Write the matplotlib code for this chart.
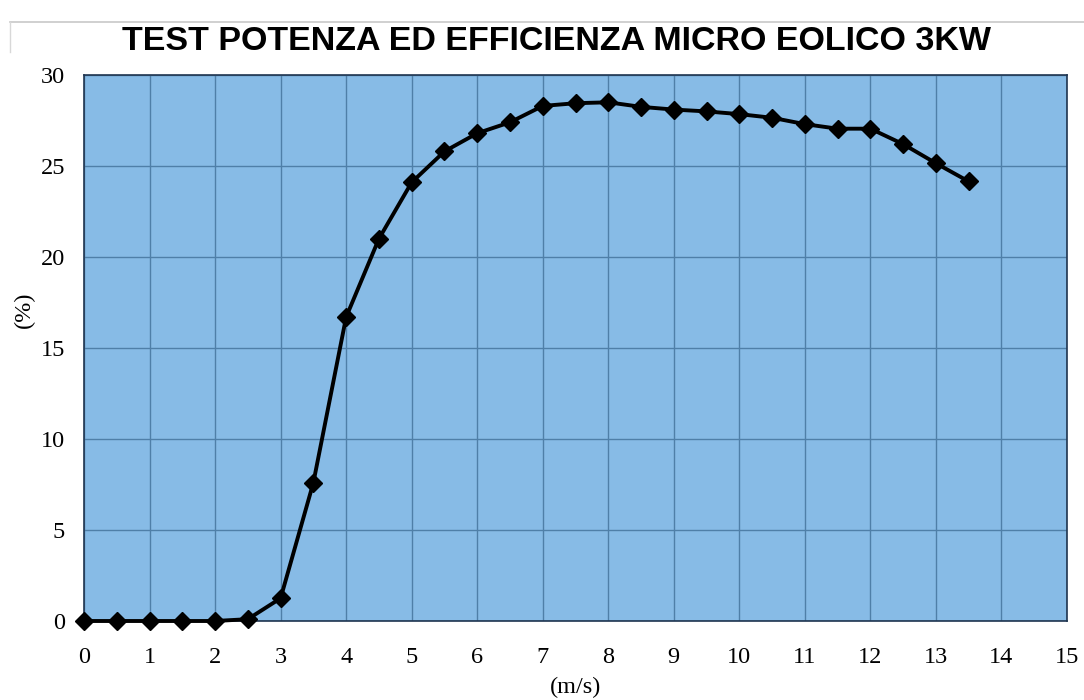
import matplotlib
matplotlib.use("Agg")
import matplotlib.pyplot as plt

# wind speed (m/s) and efficiency (%)
speed = [0, 0.5, 1, 1.5, 2, 2.5, 3, 3.5, 4, 4.5, 5, 5.5, 6, 6.5, 7,
         7.5, 8, 8.5, 9, 9.5, 10, 10.5, 11, 11.5, 12, 12.5, 13, 13.5]
efficiency = [0, 0, 0, 0, 0, 0.1, 1.25, 7.6, 16.7, 21.0, 24.1, 25.8, 26.8,
              27.4, 28.3, 28.45, 28.5, 28.25, 28.1, 28.0, 27.85, 27.65,
              27.3, 27.05, 27.05, 26.2, 25.15, 24.15]
x_ticks = list(range(0, 16))
y_ticks = [0, 5, 10, 15, 20, 25, 30]

title = "TEST POTENZA ED EFFICIENZA MICRO EOLICO 3KW"

fig = plt.figure(figsize=(10.84, 7.0), dpi=100)
ax = fig.add_axes([84 / 1084, 1 - 621 / 700, (1067 - 84) / 1084, (621 - 75) / 700])

ax.set_facecolor("#87bbe6")
ax.plot(speed, efficiency, color="black", lw=2.8, marker="D", ms=9,
        markerfacecolor="black", markeredgecolor="black", clip_on=False, zorder=3)

ax.set_xlim(0, 15)
ax.set_ylim(0, 30)
ax.set_xticks(x_ticks)
ax.set_yticks(y_ticks)
ax.grid(True, color="#4f7fa8", lw=1.0)
ax.set_axisbelow(True)
ax.tick_params(length=0, labelsize=17.5)
ax.tick_params(axis="x", pad=19)
ax.tick_params(axis="y", pad=13.5)
for lab in ax.get_xticklabels() + ax.get_yticklabels():
    lab.set_fontfamily("Liberation Serif")
for s in ax.spines.values():
    s.set_color("#1f3550")
    s.set_linewidth(1.2)

ax.set_xlabel("(m/s)", fontfamily="Liberation Serif", fontsize=17.5)
ax.set_ylabel("(%)", fontfamily="Liberation Serif", fontsize=17.5)
ax.xaxis.set_label_coords(0.5, -0.122)
ax.yaxis.set_label_coords(-0.061, 0.57)
ax.xaxis.label.set_va("center")
ax.yaxis.label.set_va("center")

fig.text(0.513, 1 - 41 / 700, title, ha="center", va="center",
         fontfamily="Liberation Sans", fontweight="bold", fontsize=24.5)

# thin frame line at the top and left of the picture
fig.add_artist(plt.Line2D([10 / 1084, 1], [1 - 22 / 700, 1 - 22 / 700],
                          color="#c8c8c8", lw=1.2))
fig.add_artist(plt.Line2D([10 / 1084, 10 / 1084], [1 - 22 / 700, 1 - 52 / 700],
                          color="#d8d8d8", lw=1.0))

fig.savefig("out.png", dpi=100)
